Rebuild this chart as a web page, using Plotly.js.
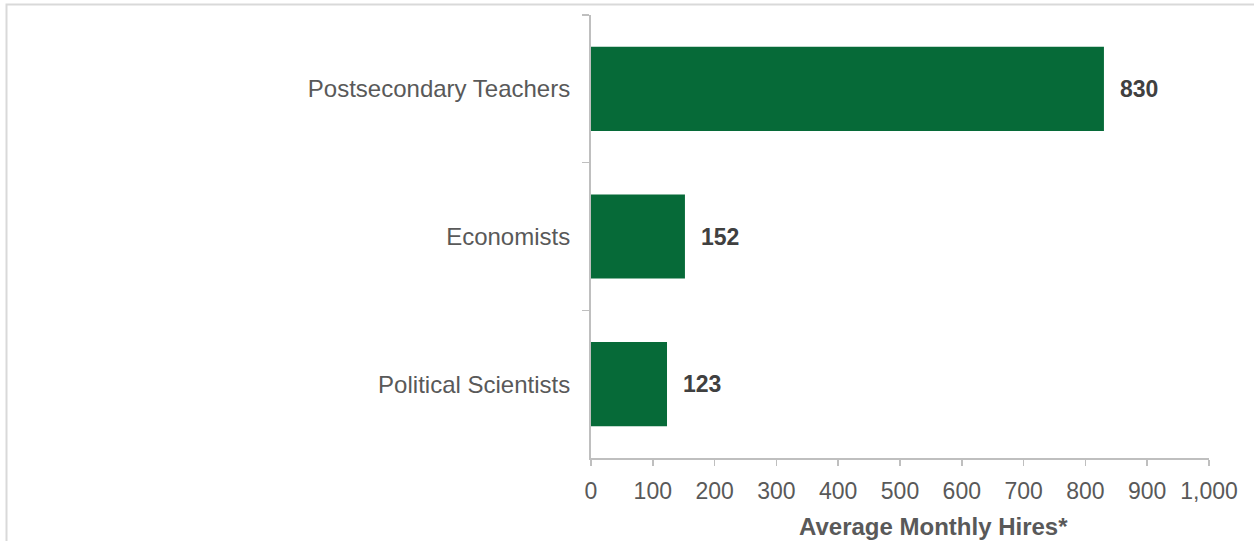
<!DOCTYPE html>
<html>
<head>
<meta charset="utf-8">
<script src="https://cdn.plot.ly/plotly-3.0.1.min.js"></script>
<style>
  html, body { margin: 0; padding: 0; background: #ffffff; }
  #chart { width: 1254px; height: 541px; }
</style>
</head>
<body>
<div id="chart"></div>
<script>
const categories = ["Postsecondary Teachers", "Economists", "Political Scientists"];
const hires = [830, 152, 123];
const xTickValues = [0, 100, 200, 300, 400, 500, 600, 700, 800, 900, 1000];
const xAxisTitle = "Average Monthly Hires*";

const FONT = "Liberation Sans, Arial, sans-serif";

const trace = {
  type: "bar",
  orientation: "h",
  y: categories,
  x: hires,
  width: 0.57,
  marker: { color: "#066a38", line: { width: 0 } },
  hoverinfo: "x+y"
};

const labelAnnotations = categories.map((c, i) => ({
  x: hires[i],
  y: c,
  xref: "x",
  yref: "y",
  text: "<b>" + hires[i] + "</b>",
  showarrow: false,
  xanchor: "left",
  yanchor: "middle",
  xshift: 14,
  font: { family: FONT, size: 23, color: "#404040" }
}));

const layout = {
  width: 1254,
  height: 541,
  margin: { l: 591, r: 45, t: 15, b: 83 },
  paper_bgcolor: "#ffffff",
  plot_bgcolor: "#ffffff",
  showlegend: false,
  font: { family: FONT, color: "#595959" },
  xaxis: {
    range: [0, 1000],
    tickvals: xTickValues,
    tickformat: ",",
    ticks: "outside",
    ticklen: 6,
    tickwidth: 1.5,
    tickcolor: "#bfbfbf",
    showline: true,
    linecolor: "#bfbfbf",
    linewidth: 2,
    showgrid: false,
    zeroline: false,
    tickfont: { family: FONT, size: 23, color: "#595959" },
    ticklabelstandoff: 5,
    fixedrange: true
  },
  yaxis: {
    type: "category",
    categoryorder: "array",
    categoryarray: categories,
    range: [2.5, -0.5],
    tickson: "boundaries",
    ticks: "outside",
    ticklen: 7,
    tickwidth: 1.5,
    tickcolor: "#bfbfbf",
    showline: true,
    linecolor: "#bfbfbf",
    linewidth: 2,
    showgrid: false,
    zeroline: false,
    tickfont: { family: FONT, size: 24, color: "#595959" },
    ticklabelstandoff: 14,
    fixedrange: true
  },
  annotations: labelAnnotations.concat([
    {
      xref: "paper", yref: "paper",
      x: (933 - 591) / 618, y: -(526 - 458) / 443,
      xanchor: "center", yanchor: "middle",
      text: "<b>" + xAxisTitle + "</b>",
      showarrow: false,
      font: { family: FONT, size: 24, color: "#595959" }
    }
  ]),
  shapes: [
    {
      type: "rect", xref: "paper", yref: "paper", layer: "below",
      x0: (6.5 - 591) / 618, x1: (1270 - 591) / 618,
      y0: -(560 - 458) / 443, y1: 1 + (15 - 4.5) / 443,
      line: { color: "#d9d9d9", width: 2 },
      fillcolor: "rgba(0,0,0,0)"
    }
  ]
};

Plotly.newPlot("chart", [trace], layout, { displayModeBar: false, staticPlot: true });
</script>
</body>
</html>
